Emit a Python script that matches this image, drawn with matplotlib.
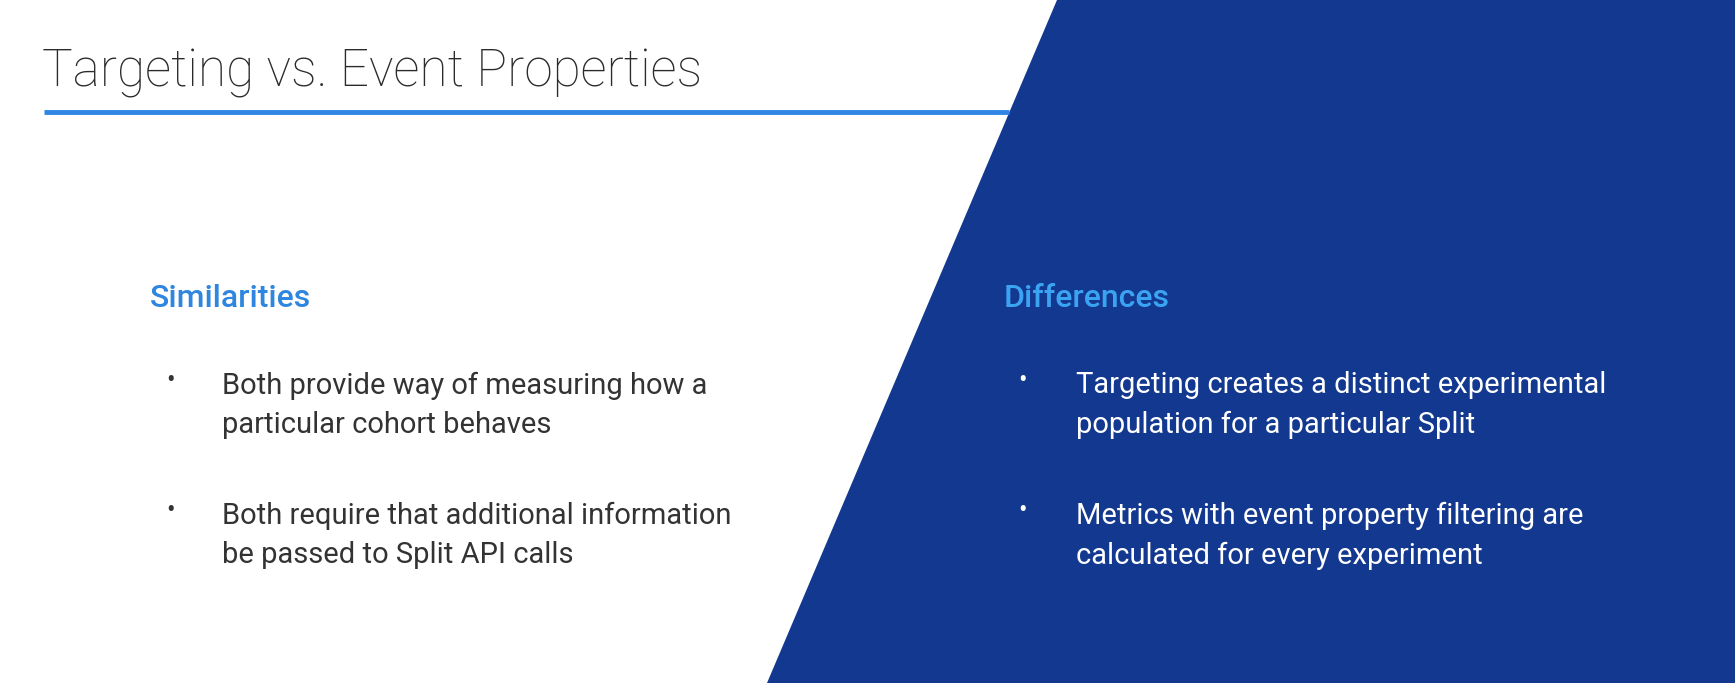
import matplotlib
matplotlib.use("Agg")
import matplotlib.pyplot as plt
from matplotlib.patches import Polygon

W, H = 1568, 617  # reference layout units
title = "Targeting vs. Event Properties"
left_head = "Similarities"
right_head = "Differences"
left_items = ["Both provide way of measuring how a\nparticular cohort behaves",
              "Both require that additional information\nbe passed to Split API calls"]
right_items = ["Targeting creates a distinct experimental\npopulation for a particular Split",
               "Metrics with event property filtering are\ncalculated for every experiment"]

fig = plt.figure(figsize=(17.35, 6.83), dpi=100)
ax = fig.add_axes([0, 0, 1, 1])
ax.set_xlim(0, W); ax.set_ylim(H, 0); ax.axis("off")
fig.patch.set_facecolor("white")

ax.add_patch(Polygon([(955, 0), (W, 0), (W, H), (693, H)], closed=True,
                     facecolor="#13388f", edgecolor="none"))
ax.plot([40, 912], [101, 101], color="#2f86e4", lw=3.5, solid_capstyle="butt")

ax.text(38, 66, title, fontsize=37, family="Roboto", fontweight="light",
        color="#2b2b2b", va="center", ha="left")
ax.text(135, 270, left_head, fontsize=23, family="Roboto", fontweight="medium",
        color="#2f86de", va="center")
ax.text(907, 270, right_head, fontsize=23, family="Roboto", fontweight="medium",
        color="#3ba4f2", va="center")

ys = [366, 484]
for y, t in zip(ys, left_items):
    ax.text(150, y - 22, "•", fontsize=18, family="Roboto", color="#333333", va="center")
    ax.text(201, y, t, fontsize=21, family="Roboto", color="#333333",
            va="center", linespacing=1.5)
for y, t in zip(ys, right_items):
    ax.text(920, y - 22, "•", fontsize=18, family="Roboto", color="white", va="center")
    ax.text(972, y, t, fontsize=21, family="Roboto", color="white",
            va="center", linespacing=1.5)

fig.savefig("out.png", dpi=100)
